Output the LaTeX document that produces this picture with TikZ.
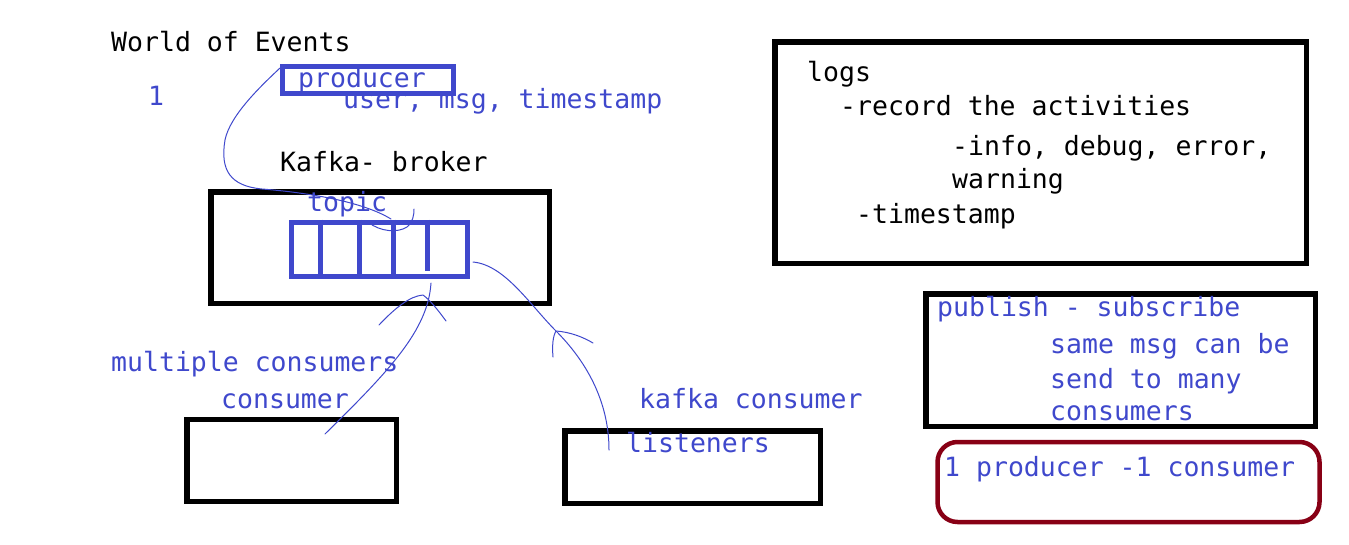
\documentclass[tikz,border=0pt]{standalone}
\usepackage{fontspec}
\setmonofont{DejaVu Sans Mono}
\definecolor{pblue}{HTML}{3F48CC}
\definecolor{dred}{HTML}{880015}
\tikzset{
  lbl/.style={anchor=base west, inner sep=0pt, font=\fontsize{26.5}{30}\selectfont\ttfamily},
  btxt/.style={lbl, text=pblue},
  ktxt/.style={lbl, text=black},
  blackbox/.style={draw=black, line width=5.5pt, rectangle, inner sep=0pt},
  bluebox/.style={draw=pblue, line width=5pt, rectangle, inner sep=0pt},
  redbox/.style={draw=dred, line width=4.5pt, rectangle, rounded corners=20pt, inner sep=0pt},
  ink/.style={draw=pblue, line width=1pt, line cap=round, line join=round},
  divider/.style={draw=pblue, line width=4.5pt},
}
\begin{document}
\begin{tikzpicture}[x=1pt,y=-1pt]
\useasboundingbox (0,0) rectangle (1349,544);
% boxes
\node[bluebox, minimum width=171pt, minimum height=27pt] (producer) at (368,80) {};
\node[blackbox, minimum width=338.5pt, minimum height=111.5pt] (broker) at (380,247.5) {};
\node[bluebox, minimum width=176pt, minimum height=54pt] (queue) at (379,249) {};
\node[blackbox, minimum width=209.5pt, minimum height=82pt] (consumerbox) at (291.5,460.5) {};
\node[blackbox, minimum width=255.5pt, minimum height=72.5pt] (listenerbox) at (692.5,467) {};
\node[blackbox, minimum width=531.5pt, minimum height=221.5pt] (logs) at (1040.5,152.5) {};
\node[blackbox, minimum width=389.5pt, minimum height=132.5pt] (pubsub) at (1120.5,360) {};
\node[redbox, minimum width=382pt, minimum height=80pt] (onetoone) at (1128.5,482) {};
% queue dividers
\draw[divider] (queue.north west) ++(32,0) -- ++(0,54);
\draw[divider] (queue.north west) ++(71,0) -- ++(0,57);
\draw[divider] (queue.north west) ++(105,0) -- ++(0,54);
\draw[divider] (queue.north west) ++(139,0) -- ++(0,51);
% texts
\node[ktxt] (title) at (111,51) {World of Events};
\node[btxt] (one) at (148,105) {1};
\node[btxt] (producertxt) at (298,87) {producer};
\node[btxt] (fields) at (343,108.5) {user, msg, timestamp};
\node[ktxt] (brokertxt) at (280,171.5) {Kafka- broker};
\node[btxt] (topic) at (307,211.5) {topic};
\node[btxt] (multi) at (111,371.5) {multiple consumers};
\node[btxt] (consumertxt) at (221,408) {consumer};
\node[btxt] (kafkacons) at (639,408) {kafka consumer};
\node[btxt] (listeners) at (626,452.5) {listeners};
\node[ktxt] (logstxt) at (807,81) {logs};
\node[ktxt] (rec) at (840,115) {-record the activities};
\node[ktxt] (levels) at (952,155) {-info, debug, error,};
\node[ktxt] (warn) at (952,188.5) {warning};
\node[ktxt] (ts) at (856,223) {-timestamp};
\node[btxt] (pub) at (937,316.5) {publish - subscribe};
\node[btxt] (same) at (1050,353.5) {same msg can be};
\node[btxt] (send) at (1050,388) {send to many};
\node[btxt] (conss) at (1050,420.5) {consumers};
\node[btxt] (oneone) at (944,476.5) {1 producer -1 consumer};
% producer -> topic stroke
\coordinate (ptop) at (280,68);
\coordinate (qin) at (391,219);
\draw[ink] (ptop) .. controls (262,85) and (230,115) .. (225,140)
  .. controls (220,170) and (230,186) .. (262,189)
  .. controls (300,192) and (360,200) .. (qin);
\coordinate (hookA) at (368,222);
\coordinate (hookB) at (414,209);
\draw[ink] (hookA) .. controls (380,232) and (398,233) .. (407,227)
  .. controls (413,222) and (414,215) .. (hookB);
% consumer -> queue
\coordinate (cstart) at (325,434);
\coordinate (cend) at (431,283);
\draw[ink] (cstart) .. controls (390,370) and (428,330) .. (cend);
\draw[ink] (379,325) .. controls (395,308) and (410,296) .. (423,295)
  .. controls (430,300) and (438,310) .. (446,321);
% listeners -> queue
\coordinate (lstart) at (609,450);
\coordinate (lend) at (473,262);
\draw[ink] (lstart) .. controls (609,400) and (585,360) .. (556,331)
  .. controls (530,305) and (505,265) .. (lend);
\draw[ink] (553,357) .. controls (552,345) and (553,336) .. (556,331)
  .. controls (570,332) and (583,337) .. (593,343);
\end{tikzpicture}
\end{document}
